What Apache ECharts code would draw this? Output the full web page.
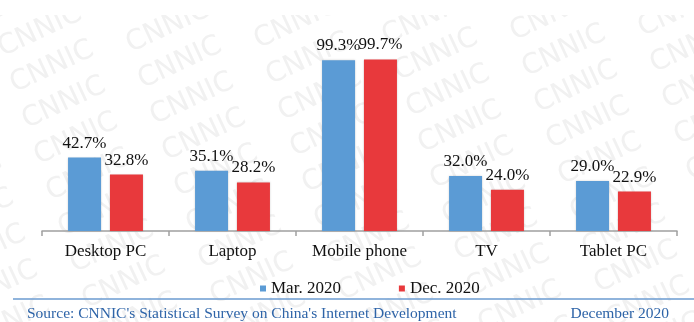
<!DOCTYPE html>
<html>
<head>
<meta charset="utf-8">
<script src="https://cdn.jsdelivr.net/npm/echarts@6/dist/echarts.min.js"></script>
<style>
html,body{margin:0;padding:0;background:#fff;}
#c{width:694px;height:322px;}
</style>
</head>
<body>
<div id="c"></div>
<script>
var categories = ['Desktop PC', 'Laptop', 'Mobile phone', 'TV', 'Tablet PC'];
var seriesNames = ['Mar. 2020', 'Dec. 2020'];
var mar2020 = [42.7, 35.1, 99.3, 32.0, 29.0];
var dec2020 = [32.8, 28.2, 99.7, 24.0, 22.9];
var sourceText = "Source: CNNIC's Statistical Survey on China's Internet Development";
var dateText = 'December 2020';

var chart = echarts.init(document.getElementById('c'), null, {renderer: 'canvas'});

// faint diagonal "CNNIC" watermark (decoration)
var wm = [];
for (var k = -2; k <= 8; k++) {
  for (var j = -1; j <= 6; j++) {
    var cx = 52 + 12 * k + 128 * j;
    var cy = 67 + 36 * k - 4 * j;
    if (cx < -60 || cx > 760 || cy < -20 || cy > 350) continue;
    wm.push({
      type: 'text', x: cx, y: cy, rotation: 25 * Math.PI / 180, z: -10, silent: true,
      style: {text: 'CNNIC', fill: '#f1f1f1', font: '28px "DejaVu Sans"', align: 'center', verticalAlign: 'middle'}
    });
  }
}
wm.push({type: 'rect', shape: {x: 0, y: 0, width: 694, height: 15}, z: -5, silent: true, style: {fill: '#fff'}});
wm.push({type: 'line', shape: {x1: 13, y1: 299, x2: 694, y2: 299}, z: 5, silent: true, style: {stroke: '#6b9bd0', lineWidth: 1.5}});
wm.push({type: 'text', x: 27, y: 314, z: 5, silent: true,
  style: {text: sourceText, fill: '#2e64a8', font: '15.5px "Liberation Serif"', align: 'left', verticalAlign: 'middle'}});
wm.push({type: 'text', x: 669, y: 314, z: 5, silent: true,
  style: {text: dateText, fill: '#2e64a8', font: '15.5px "Liberation Serif"', align: 'right', verticalAlign: 'middle'}});

var labelCfg = {
  show: true, position: 'top', distance: 6,
  fontFamily: 'Liberation Serif', fontSize: 17, color: '#111',
  formatter: function (p) { return p.value.toFixed(1) + '%'; }
};

chart.setOption({
  backgroundColor: '#fff',
  animation: false,
  textStyle: {fontFamily: 'Liberation Serif'},
  grid: {left: 42, right: 17, top: 59, bottom: 91},
  legend: {
    data: seriesNames, left: 255, top: 275, icon: 'rect', itemWidth: 6, itemHeight: 6,
    itemGap: 58, textStyle: {fontFamily: 'Liberation Serif', fontSize: 17, color: '#111', padding: [0, 0, 0, 0]}
  },
  xAxis: {
    type: 'category', data: categories,
    axisLine: {lineStyle: {color: '#a0a0a0', width: 1.5}},
    axisTick: {show: true, length: 5, lineStyle: {color: '#a0a0a0', width: 1.5}},
    axisLabel: {fontFamily: 'Liberation Serif', fontSize: 17, color: '#111', margin: 12}
  },
  yAxis: {type: 'value', min: 0, max: 100, show: false, splitLine: {show: false}},
  graphic: {elements: wm},
  series: [
    {name: seriesNames[0], type: 'bar', data: mar2020, barWidth: 33, barGap: '27%',
      itemStyle: {color: '#5b9bd5', shadowColor: 'rgba(0,0,0,0.18)', shadowBlur: 2}, label: labelCfg},
    {name: seriesNames[1], type: 'bar', data: dec2020, barWidth: 33,
      itemStyle: {color: '#e8393c', shadowColor: 'rgba(0,0,0,0.18)', shadowBlur: 2}, label: labelCfg}
  ]
});
</script>
</body>
</html>
